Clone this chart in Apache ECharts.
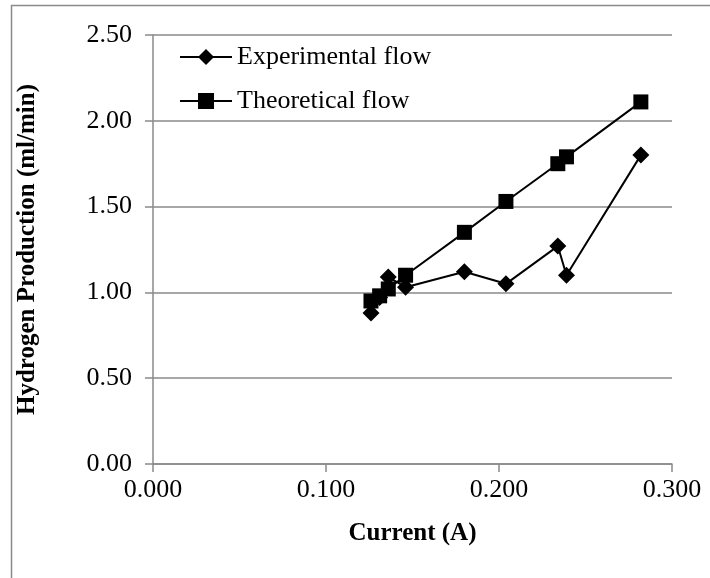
<!DOCTYPE html>
<html>
<head>
<meta charset="utf-8">
<script src="https://cdn.jsdelivr.net/npm/echarts@6/dist/echarts.min.js"></script>
<style>
html,body{margin:0;padding:0;background:#fff;}
#chart{width:710px;height:578px;}
</style>
</head>
<body>
<div id="chart"></div>
<script>
// Data
var current = [0.126, 0.131, 0.136, 0.146, 0.180, 0.204, 0.234, 0.239, 0.282];
var experimentalFlow = [0.88, 0.97, 1.09, 1.03, 1.12, 1.05, 1.27, 1.10, 1.80];
var theoreticalFlow = [0.95, 0.98, 1.02, 1.10, 1.35, 1.53, 1.75, 1.79, 2.11];
var seriesNames = ['Experimental flow', 'Theoretical flow'];
var xTitle = 'Current (A)';
var yTitle = 'Hydrogen Production (ml/min)';

function pairs(xs, ys) { return xs.map(function (x, i) { return [x, ys[i]]; }); }

var FONT = "'Liberation Serif', 'Times New Roman', serif";
var GRAY = '#8a8a8a';

var chart = echarts.init(document.getElementById('chart'), null, {renderer: 'canvas'});
chart.setOption({
  animation: false,
  backgroundColor: '#fff',
  textStyle: {fontFamily: FONT, color: '#000'},
  grid: {left: 153, right: 38, top: 35, bottom: 114},
  legend: [{
    data: [seriesNames[0]],
    left: 174, top: 37,
    itemWidth: 52, itemHeight: 20, itemGap: 0,
    textStyle: {fontFamily: FONT, fontSize: 26, color: '#000', lineHeight: 30}
  }, {
    data: [seriesNames[1]],
    left: 174, top: 81,
    itemWidth: 52, itemHeight: 20, itemGap: 0,
    textStyle: {fontFamily: FONT, fontSize: 26, color: '#000', lineHeight: 30}
  }],
  xAxis: {
    type: 'value', min: 0, max: 0.3, interval: 0.1,
    name: xTitle, nameLocation: 'middle', nameGap: 57,
    nameTextStyle: {fontFamily: FONT, fontSize: 25, fontWeight: 'bold', color: '#000'},
    axisLine: {show: true, lineStyle: {color: GRAY, width: 1.5}},
    axisTick: {show: true, inside: false, length: 8, lineStyle: {color: GRAY, width: 1.5}},
    axisLabel: {fontFamily: FONT, fontSize: 26, color: '#000', margin: 13,
      formatter: function (v) { return v.toFixed(3); }},
    splitLine: {show: false}
  },
  yAxis: {
    type: 'value', min: 0, max: 2.5, interval: 0.5,
    name: yTitle, nameLocation: 'middle', nameGap: 113, nameRotate: 90,
    nameTextStyle: {fontFamily: FONT, fontSize: 25, fontWeight: 'bold', color: '#000'},
    axisLine: {show: true, lineStyle: {color: GRAY, width: 1.5}},
    axisTick: {show: true, inside: false, length: 8, lineStyle: {color: GRAY, width: 1.5}},
    axisLabel: {fontFamily: FONT, fontSize: 26, color: '#000', margin: 21,
      formatter: function (v) { return v.toFixed(2); }},
    splitLine: {show: true, lineStyle: {color: GRAY, width: 1.5}}
  },
  series: [{
    name: seriesNames[0], type: 'line',
    data: pairs(current, experimentalFlow),
    smooth: false,
    symbol: 'diamond', symbolSize: 17,
    lineStyle: {color: '#000', width: 2},
    itemStyle: {color: '#000'},
    z: 3
  }, {
    name: seriesNames[1], type: 'line',
    data: pairs(current, theoreticalFlow),
    smooth: false,
    symbol: 'rect', symbolSize: 15,
    lineStyle: {color: '#000', width: 2},
    itemStyle: {color: '#000'},
    z: 2
  }],
  graphic: [{
    type: 'polyline', silent: true,
    shape: {points: [[11.5, 578], [11.5, 5.5], [710, 5.5]]},
    style: {stroke: GRAY, lineWidth: 1.5, fill: null}
  }]
});
</script>
</body>
</html>
